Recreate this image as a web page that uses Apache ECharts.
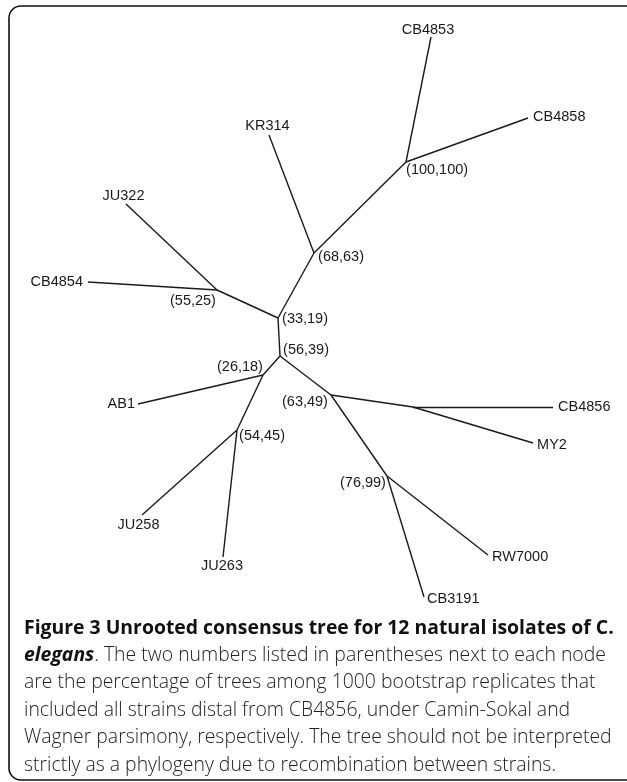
<!DOCTYPE html>
<html>
<head>
<meta charset="utf-8">
<script src="https://cdn.jsdelivr.net/npm/echarts@6/dist/echarts.min.js"></script>
<style>
html,body{margin:0;padding:0;background:#fff;}
#c{width:627px;height:782px;}
</style>
</head>
<body>
<div id="c"></div>
<script>
// ---- data ----
const nodeNames = ['N100','CB4853','CB4858','N68','KR314','N33','N55','JU322','CB4854','N56','N26','AB1','N54','JU258','JU263','N63','NX','CB4856','MY2','N76','RW7000','CB3191'];
const nodeX = [406,431,528,314,269,278,217,126,88,280,263,138,237,142,223,331,413,553,533,387,488,424];
const nodeY = [162,37,118,253,135,318,290,204,282,356,375,404,430,515,557,395,407,407,443,476,555,597];
// bootstrap support (Camin-Sokal, Wagner) for internal nodes
const supportNodes = ['N100','N68','N55','N33','N56','N26','N54','N63','N76'];
const supportCS = [100,68,55,33,56,26,54,63,76];
const supportW  = [100,63,25,19,39,18,45,49,99];
const edges = [
  ['N100','CB4853'],['N100','CB4858'],['N100','N68'],['N68','KR314'],['N68','N33'],
  ['N33','N55'],['N55','JU322'],['N55','CB4854'],['N33','N56'],['N56','N26'],
  ['N26','AB1'],['N26','N54'],['N54','JU258'],['N54','JU263'],['N56','N63'],
  ['N63','NX'],['NX','CB4856'],['NX','MY2'],['N63','N76'],['N76','RW7000'],['N76','CB3191']
];
const captionLines = [
  'Figure 3 Unrooted consensus tree for 12 natural isolates of C.',
  'elegans',
  '. The two numbers listed in parentheses next to each node',
  'are the percentage of trees among 1000 bootstrap replicates that',
  'included all strains distal from CB4856, under Camin-Sokal and',
  'Wagner parsimony, respectively. The tree should not be interpreted',
  'strictly as a phylogeny due to recombination between strains.'
];

// ---- label placement (style) ----
const labelPlace = {
  CB4853:['top',0,[-3,1]], KR314:['top',1,[-1.5,0]], JU322:['top',0,[-2.5,0]],
  CB4858:['right',5,[0,-1]], CB4854:['left',5,[0,0]], AB1:['left',3,[0,0]],
  JU258:['bottom',2,[-3.5,0]], JU263:['bottom',1,[-1,0]],
  CB4856:['right',5,[0,0]], MY2:['right',4,[0,2]], RW7000:['right',4,[0,2]], CB3191:['right',3,[0,2]],
  N100:['right',0,[0,8]], N68:['right',4,[0,4]], N55:['left',1,[0,11]], N33:['right',4,[0,1]],
  N56:['right',3,[0,-6]], N26:['left',0,[0,-8]], N54:['right',2,[0,6]], N63:['left',3,[0,7]],
  N76:['left',1,[0,7]]
};

const data = nodeNames.map((n,i)=>{
  const si = supportNodes.indexOf(n);
  let text = '';
  if (si >= 0) text = '(' + supportCS[si] + ',' + supportW[si] + ')';
  else if (n !== 'NX') text = n;
  const p = labelPlace[n];
  return {
    name: n,
    value: [nodeX[i], nodeY[i]],
    label: p ? {show:true, formatter:text, position:p[0], distance:p[1], offset:p[2]} : {show:false}
  };
});
const links = edges.map(e=>({source:e[0], target:e[1]}));

const chart = echarts.init(document.getElementById('c'), null, {renderer:'canvas'});
const capFont = '"Open Sans", sans-serif';
const capX = 24, capY0 = 628, capDY = 27.4, capSize = 19.4;
const graphics = [
  {type:'rect', shape:{x:9, y:6, width:660, height:774, r:12}, style:{fill:'none', stroke:'#111', lineWidth:1.6}, silent:true},
  {type:'text', x:capX, y:capY0, style:{text:captionLines[0], font:'bold '+capSize+'px '+capFont, fill:'#111', verticalAlign:'middle'}},
  {type:'text', x:capX, y:capY0+capDY, style:{
      text:'{bi|'+captionLines[1]+'}{r|'+captionLines[2]+'}', verticalAlign:'middle',
      rich:{bi:{font:'italic bold '+capSize+'px '+capFont, fill:'#111'}, r:{font:'300 '+capSize+'px '+capFont, fill:'#222'}}}}
];
for (let i=3;i<captionLines.length;i++){
  graphics.push({type:'text', x:capX, y:capY0+capDY*(i-1), style:{text:captionLines[i], font:'300 '+capSize+'px '+capFont, fill:'#222', verticalAlign:'middle'}});
}

chart.setOption({
  animation:false,
  grid:{left:0,right:0,top:0,bottom:0},
  xAxis:{type:'value', min:0, max:627, show:false},
  yAxis:{type:'value', min:0, max:782, inverse:true, show:false},
  series:[{
    type:'graph',
    coordinateSystem:'cartesian2d',
    symbol:'circle',
    symbolSize:0.1,
    itemStyle:{color:'rgba(0,0,0,0)'},
    label:{color:'#1a1a1a', fontSize:14.5, fontFamily:'"Liberation Sans", Arial, sans-serif'},
    lineStyle:{color:'#1a1a1a', width:1.4, opacity:1, curveness:0},
    emphasis:{disabled:true},
    data:data,
    links:links
  }],
  graphic:graphics
});
</script>
</body>
</html>
